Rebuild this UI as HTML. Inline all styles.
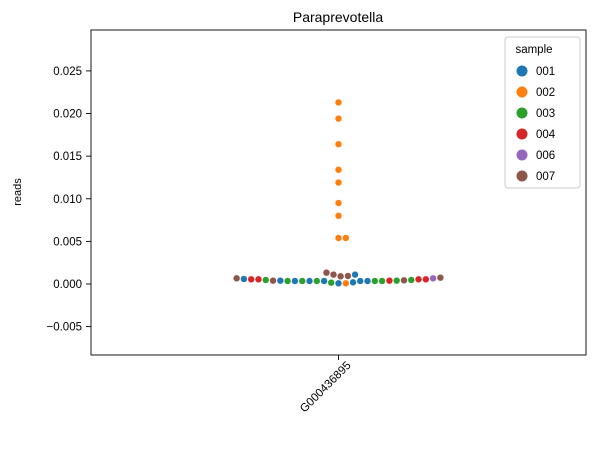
<!DOCTYPE html>
<html><head><meta charset="utf-8"><style>
body{margin:0;background:#fff;}
svg{display:block;font-family:"Liberation Sans","DejaVu Sans",sans-serif;}
</style></head><body>
<svg id="chart" width="596" height="450" viewBox="0 0 596 450">
<text x="338" y="22" text-anchor="middle" font-size="14">Paraprevotella</text>
<text transform="translate(21,192) rotate(-90)" text-anchor="middle" font-size="11">reads</text>
<g id="yaxis"></g>
<g id="xaxis"></g>
<g id="points"></g>
<rect x="91" y="30" width="495" height="325" fill="none" stroke="#000" stroke-width="0.9"/>
<g id="legend"></g>
</svg>
<script>
const categories = ["G000436895"];
const yTicks = [-0.005, 0, 0.005, 0.010, 0.015, 0.020, 0.025];
const sampleNames = ["001","002","003","004","006","007"];
const sampleColors = ["#1f77b4","#ff7f0e","#2ca02c","#d62728","#9467bd","#8c564b"];
const pointSamples = ["006","004","004","003","003","004","001","003","007","001","003","001","001","002","003","001","001","001","003","003","001","003","003","007","004","004","001","007","007","007","007","007","001","007","002","002","002","002","002","002","002","002","002"];
const pointValues = [0.000665,0.000548,0.000548,0.00047,0.00047,0.00039,0.00039,0.00039,0.00039,0.00035,0.00035,0.000196,0.00008,0.00008,0.000156,0.00035,0.00035,0.00035,0.00035,0.00035,0.00035,0.00035,0.00035,0.00043,0.000548,0.000548,0.000587,0.000665,0.0011,0.0009,0.00074,0.00094,0.0011,0.00133,0.0054,0.0054,0.0080,0.0095,0.0119,0.0134,0.0164,0.0194,0.0213];

const NS="http://www.w3.org/2000/svg";
const plotTop=30, plotBottom=355, yMin=-0.00833, yMax=0.0298;
function yScale(v){return plotBottom-(v-yMin)/(yMax-yMin)*(plotBottom-plotTop);}
function xScale(i){return 91+495*(i+0.5)/categories.length;}
function mk(tag,attrs,parent){const e=document.createElementNS(NS,tag);for(const k in attrs)e.setAttribute(k,attrs[k]);parent.appendChild(e);return e;}

const ya=document.getElementById('yaxis');
yTicks.forEach(t=>{
  const y=yScale(t);
  const l=mk('line',{x1:86,x2:91,y1:y,y2:y,stroke:'#000','stroke-width':0.9},ya);
  
  
  const tx=mk('text',{x:82,y:y+4,'text-anchor':'end','font-size':11.5},ya);
  tx.textContent=(t<0?'\u2212':'')+Math.abs(t).toFixed(3);
  
  
});
const xa=document.getElementById('xaxis');
categories.forEach((c,i)=>{
  const x=xScale(i);
  const l=mk('line',{x1:x,x2:x,y1:355,y2:360,stroke:'#000','stroke-width':0.9},xa);
  
  
  const tx=mk('text',{transform:`translate(${x+13},${366}) rotate(-45)`,'text-anchor':'end','font-size':11.5},xa);
  tx.textContent=c;
  
  
});

// beeswarm layout
const d=7.3;
const idx=pointValues.map((v,i)=>i).sort((a,b)=>pointValues[a]-pointValues[b]);
const placed=[];
const pg=document.getElementById('points');
idx.forEach(i=>{
  const y=yScale(pointValues[i]);
  const cands=[0];
  placed.forEach(p=>{const dy=y-p.y;if(Math.abs(dy)<d){const dx=Math.sqrt(d*d-dy*dy);cands.push(p.o+dx,p.o-dx);}});
  cands.sort((a,b)=>Math.abs(a)-Math.abs(b));
  let off=0;
  for(const c of cands){if(placed.every(p=>(p.o-c)**2+(p.y-y)**2>=d*d-0.01)){off=c;break;}}
  placed.push({o:off,y:y,i:i});
});
placed.forEach(p=>{
  const c=mk('circle',{cx:xScale(0)+p.o,cy:p.y,r:3.4,fill:sampleColors[sampleNames.indexOf(pointSamples[p.i])],stroke:'#fff','stroke-width':0.4},pg);
  
  
});

const lg=document.getElementById('legend');
const box=mk('rect',{x:505,y:37,width:75,height:151,rx:3,fill:'#fff',stroke:'#ccc','stroke-width':1},lg);


const lt=mk('text',{x:534,y:53,'text-anchor':'middle','font-size':11.5},lg);
lt.textContent='sample';


sampleNames.forEach((s,k)=>{
  const y=71+k*21;
  const g=mk('g',{},lg);
  
  
  mk('circle',{cx:522,cy:y,r:5.5,fill:sampleColors[k]},g);
  const t=mk('text',{x:536,y:y+4,'font-size':11.5},g);
  t.textContent=s;
});
</script>
</body></html>
